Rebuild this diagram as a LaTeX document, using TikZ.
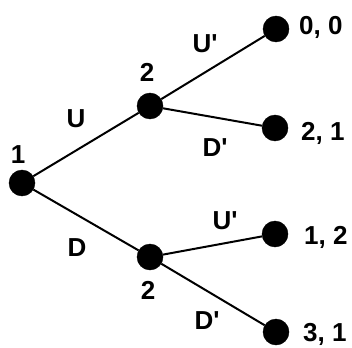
\documentclass[tikz,border=0pt]{standalone}
\usepackage{fontspec}
\setmainfont{Liberation Sans}
\begin{document}
\begin{tikzpicture}[x=1pt,y=-1pt,
  dot/.style={circle,fill=black,draw=black,minimum size=26pt,inner sep=0pt},
  lab/.style={font=\fontsize{26}{26}\selectfont\bfseries,anchor=base,inner sep=0pt},
  pay/.style={lab,anchor=base west},
  edge/.style={line width=2pt}]
\useasboundingbox (0,0) rectangle (352,347);
\node[dot] (n1) at (22,183) {};
\node[dot] (a) at (150,106) {};
\node[dot] (b) at (150,257) {};
\node[dot] (l1) at (276,29) {};
\node[dot] (l2) at (275,128) {};
\node[dot] (l3) at (275,234) {};
\node[dot] (l4) at (276,332) {};
\draw[edge] (n1) -- (a);
\draw[edge] (n1) -- (b);
\draw[edge] (a) -- (l1);
\draw[edge] (a) -- (l2);
\draw[edge] (b) -- (l3);
\draw[edge] (b) -- (l4);
\node[lab] (t1) at (18,163) {1};
\node[lab] (t2) at (147,82) {2};
\node[lab] (t3) at (148,299) {2};
\node[lab] (eU) at (76,128) {U};
\node[lab] (eD) at (77,256) {D};
\node[lab] (eU1) at (205,53) {U\textquotesingle};
\node[lab] (eD1) at (215,157) {D\textquotesingle};
\node[lab] (eU2) at (225,229) {U\textquotesingle};
\node[lab] (eD2) at (207,329) {D\textquotesingle};
\node[pay] (p1) at (299,35) {0, 0};
\node[pay] (p2) at (301,140) {2, 1};
\node[pay] (p3) at (304,244) {1, 2};
\node[pay] (p4) at (303,341) {3, 1};
\end{tikzpicture}
\end{document}
